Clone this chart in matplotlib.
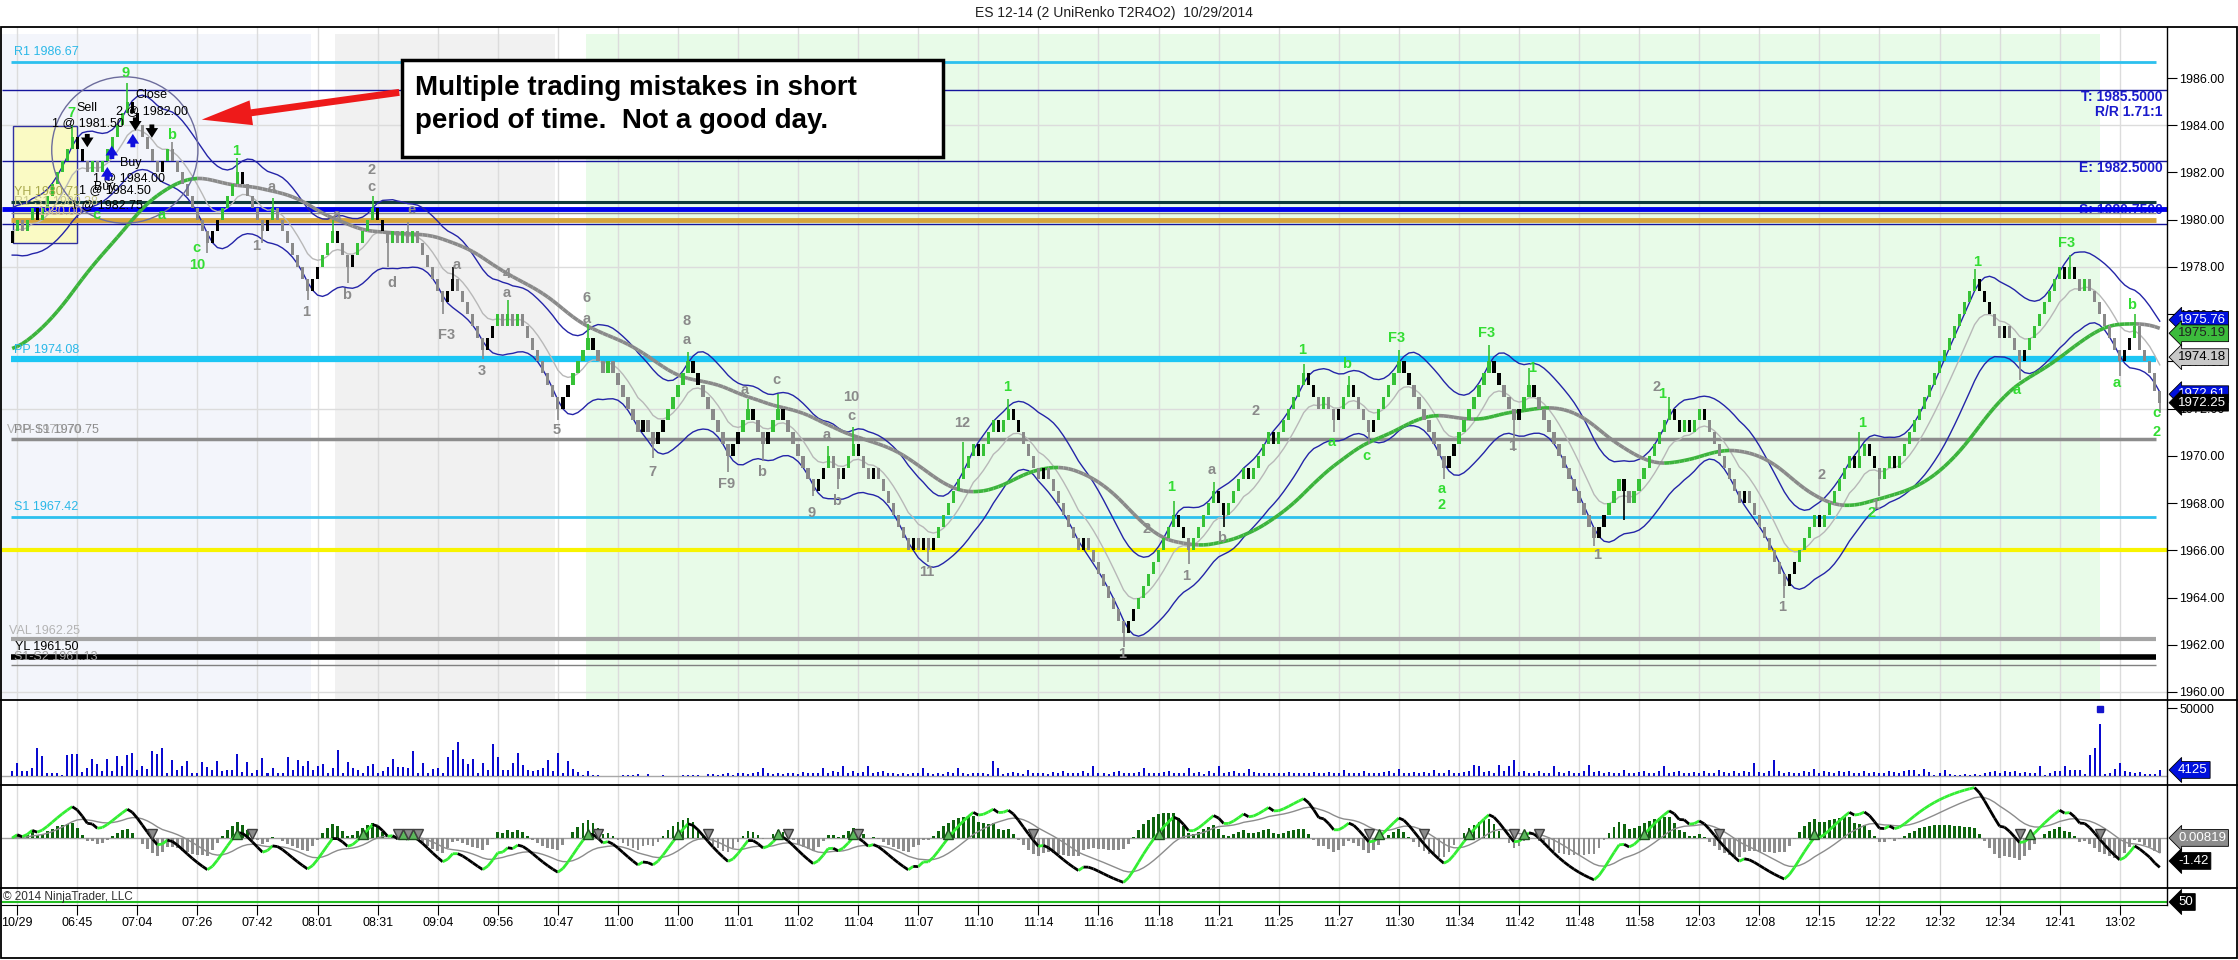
import numpy as np
import pandas as pd
import matplotlib
matplotlib.use('Agg')
import matplotlib.pyplot as plt
from matplotlib.patches import Rectangle, Ellipse, FancyArrowPatch
from matplotlib.lines import Line2D
from matplotlib.collections import LineCollection
import matplotlib.transforms as mtrans

plt.rcParams['font.family'] = ['Liberation Sans', 'DejaVu Sans']

# ---- data (bar index starts at -1) ----
closes = [
    1979.5, 1980, 1979.5, 1980, 1980.5, 1980, 1980.5, 1981, 1981.5, 1982, 1982.5, 1983, 1983.5,
    1983, 1982.5, 1982, 1982.5, 1982, 1982.5, 1983, 1983.5, 1984, 1984.5, 1985, 1984.5,
    1984, 1983.5, 1983, 1982.5, 1982, 1982.5, 1983, 1982.5, 1982, 1981.5, 1981, 1980.5,
    1980, 1979.5, 1979, 1979.5, 1980, 1980.5, 1981, 1981.5, 1982, 1981.5, 1981, 1980.5,
    1980, 1979.5, 1980, 1980.5, 1980, 1979.5, 1979, 1978.5, 1978, 1977.5, 1977, 1977.5,
    1978, 1978.5, 1979, 1979.5, 1979, 1978.5, 1978, 1978.5, 1979, 1979.5, 1980, 1980.5,
    1980, 1979.5, 1979, 1979.5, 1979, 1979.5, 1979, 1979.5, 1979, 1978.5, 1978, 1977.5,
    1977, 1976.5, 1977, 1977.5, 1977, 1976.5, 1976, 1975.5, 1975, 1974.5, 1975, 1975.5,
    1976, 1975.5, 1976, 1975.5, 1976, 1975.5, 1975, 1974.5, 1974, 1973.5, 1973, 1972.5,
    1972, 1972.5, 1973, 1973.5, 1974, 1974.5, 1975, 1974.5, 1974, 1973.5, 1974, 1973.5,
    1973, 1972.5, 1972, 1971.5, 1971, 1971.5, 1971, 1970.5, 1971, 1971.5, 1972, 1972.5,
    1973, 1973.5, 1974, 1973.5, 1973, 1972.5, 1972, 1971.5, 1971, 1970.5, 1970, 1970.5,
    1971, 1971.5, 1972, 1971.5, 1971, 1970.5, 1971, 1971.5, 1972, 1971.5, 1971, 1970.5,
    1970, 1969.5, 1969, 1968.5, 1969, 1969.5, 1970, 1969.5, 1969, 1969.5, 1970, 1970.5,
    1970, 1969.5, 1969, 1969.5, 1969, 1968.5, 1968, 1967.5, 1967, 1966.5, 1966, 1966.5,
    1966, 1966.5, 1966, 1966.5, 1967, 1967.5, 1968, 1968.5, 1969, 1969.5, 1970, 1970.5,
    1970, 1970.5, 1971, 1971.5, 1971, 1971.5, 1972, 1971.5, 1971, 1970.5, 1970, 1969.5,
    1969, 1969.5, 1969, 1968.5, 1968, 1967.5, 1967, 1966.5, 1966, 1966.5, 1966, 1965.5,
    1965, 1964.5, 1964, 1963.5, 1963, 1962.5, 1963, 1963.5, 1964, 1964.5, 1965, 1965.5,
    1966, 1966.5, 1967, 1967.5, 1967, 1966.5, 1966, 1966.5, 1967, 1967.5, 1968, 1968.5,
    1968, 1967.5, 1968, 1968.5, 1969, 1969.5, 1969, 1969.5, 1970, 1970.5, 1971, 1970.5,
    1971, 1971.5, 1972, 1972.5, 1973, 1973.5, 1973, 1972.5, 1972, 1972.5, 1972, 1971.5,
    1972, 1972.5, 1973, 1972.5, 1972, 1971.5, 1971, 1971.5, 1972, 1972.5, 1973, 1973.5,
    1974, 1973.5, 1973, 1972.5, 1972, 1971.5, 1971, 1970.5, 1970, 1969.5, 1970, 1970.5,
    1971, 1971.5, 1972, 1972.5, 1973, 1973.5, 1974, 1973.5, 1973, 1972.5, 1972, 1971.5,
    1972, 1972.5, 1973, 1972.5, 1972, 1971.5, 1971, 1970.5, 1970, 1969.5, 1969, 1968.5,
    1968, 1967.5, 1967, 1966.5, 1967, 1967.5, 1968, 1968.5, 1969, 1968.5, 1968, 1968.5,
    1969, 1969.5, 1970, 1970.5, 1971, 1971.5, 1972, 1971.5, 1971, 1971.5, 1971, 1971.5,
    1972, 1971.5, 1971, 1970.5, 1970, 1969.5, 1969, 1968.5, 1968, 1968.5, 1968, 1967.5,
    1967, 1966.5, 1966, 1965.5, 1965, 1964.5, 1965, 1965.5, 1966, 1966.5, 1967, 1967.5,
    1967, 1967.5, 1968, 1968.5, 1969, 1969.5, 1970, 1969.5, 1970, 1970.5, 1970, 1969.5,
    1969, 1969.5, 1970, 1969.5, 1970, 1970.5, 1971, 1971.5, 1972, 1972.5, 1973, 1973.5,
    1974, 1974.5, 1975, 1975.5, 1976, 1976.5, 1977, 1977.5, 1977, 1976.5, 1976, 1975.5,
    1975, 1975.5, 1975, 1974.5, 1974, 1974.5, 1975, 1975.5, 1976, 1976.5, 1977, 1977.5,
    1978, 1977.5, 1978, 1977.5, 1977, 1977.5, 1977, 1976.5, 1976, 1975.5, 1975, 1974.5,
    1974, 1974.5, 1975, 1975.5, 1974.5, 1974, 1973.5, 1972.75, 1972.25,
]

# volume per bar, thousands of contracts
vol_k = [
    3.2, 9.3, 3.2, 3.2, 5.6, 20.3, 14.2, 1.5, 2.0, 1.5, 0.5, 15.4, 16.2,
    16.2, 2.5, 5.6, 12.2, 8.8, 3.2, 12.2, 3.2, 14.2, 7.4, 15.4, 16.7,
    4.4, 7.4, 4.9, 18.4, 15.9, 20.3, 2.0, 11.8, 4.4, 7.4, 10.8, 2.0,
    1.5, 9.8, 6.4, 4.4, 10.8, 3.2, 3.9, 4.4, 15.9, 2.9, 10.0, 1.5,
    4.4, 13.0, 2.0, 5.6, 2.0, 1.5, 13.7, 4.4, 11.8, 6.9, 10.5, 4.4,
    6.9, 8.8, 2.0, 5.6, 19.1, 2.0, 10.0, 5.6, 4.4, 2.0, 7.4, 8.6,
    2.0, 3.2, 6.4, 12.2, 6.1, 6.4, 5.6, 18.4, 2.0, 9.3, 2.0, 5.1,
    5.6, 2.0, 13.7, 18.6, 24.7, 12.2, 8.8, 12.2, 2.0, 9.3, 3.9, 23.3,
    13.7, 4.4, 4.4, 9.3, 16.7, 7.6, 4.4, 3.2, 4.4, 5.6, 11.8, 3.2,
    16.7, 2.0, 11.0, 4.9, 2.5, 0.7, 3.2, 0.7, 0.7, 0.0, 0.0, 0.0,
    0.0, 0.7, 0.5, 0.7, 0.9, 0.0, 1.0, 0.0, 0.0, 0.7, 0.0, 0.0,
    0.0, 0.7, 0.5, 0.7, 0.7, 0.0, 0.9, 1.2, 0.7, 1.0, 1.5, 0.7,
    2.2, 1.5, 1.0, 1.5, 2.5, 5.7, 1.5, 1.0, 2.0, 1.2, 2.0, 1.5,
    1.0, 2.5, 1.5, 1.7, 2.2, 5.2, 2.0, 3.7, 2.5, 6.9, 2.2, 3.0,
    1.5, 2.7, 6.9, 1.7, 2.5, 3.2, 1.5, 2.0, 1.2, 2.2, 1.0, 1.5,
    2.0, 5.2, 1.5, 1.0, 1.7, 1.2, 2.5, 1.5, 5.7, 2.0, 1.2, 1.7,
    2.2, 1.5, 1.0, 10.6, 5.7, 1.2, 1.5, 2.5, 1.7, 1.0, 4.4, 2.0,
    1.5, 2.2, 1.2, 2.5, 1.7, 3.0, 2.0, 1.5, 2.2, 3.2, 1.7, 6.7,
    1.5, 2.0, 1.2, 2.5, 3.5, 1.7, 2.0, 1.5, 2.5, 5.7, 1.7, 2.2,
    1.5, 2.7, 3.0, 2.0, 1.5, 2.2, 5.7, 1.7, 2.5, 1.2, 3.2, 2.0,
    6.9, 1.5, 2.5, 3.5, 2.2, 1.7, 4.9, 2.5, 2.0, 1.5, 2.2, 1.7,
    2.0, 1.5, 2.5, 1.7, 2.2, 1.5, 2.0, 2.7, 1.5, 1.7, 2.5, 2.0,
    1.5, 4.4, 2.2, 1.5, 2.0, 3.0, 1.7, 2.2, 1.5, 2.5, 3.7, 2.0,
    4.9, 1.5, 2.0, 2.7, 1.7, 2.5, 2.2, 4.4, 2.0, 1.5, 4.4, 2.2,
    1.7, 2.5, 3.2, 8.1, 6.9, 2.5, 3.7, 2.0, 8.1, 3.0, 6.9, 11.8,
    2.5, 3.7, 2.0, 1.5, 3.0, 2.2, 1.7, 6.9, 2.5, 2.0, 3.2, 1.5,
    2.2, 3.0, 8.1, 2.5, 3.5, 2.0, 2.5, 1.7, 2.2, 4.4, 2.0, 1.5,
    2.5, 3.0, 1.7, 2.2, 3.2, 7.4, 2.0, 2.5, 3.5, 2.2, 1.7, 2.5,
    2.0, 3.0, 2.2, 1.5, 4.4, 2.5, 2.0, 3.0, 2.2, 3.5, 2.5, 9.1,
    2.5, 2.0, 3.7, 11.8, 3.0, 2.2, 2.5, 1.7, 2.0, 3.5, 2.5, 4.9,
    2.2, 3.2, 2.5, 2.0, 3.7, 2.5, 3.0, 1.7, 2.2, 3.5, 2.0, 2.5,
    1.7, 2.2, 3.0, 2.5, 1.5, 3.7, 4.4, 4.2, 1.2, 4.9, 2.5, 0.7,
    1.7, 4.2, 1.2, 0.7, 0.3, 1.2, 0.3, 1.2, 0.3, 1.7, 2.5, 3.2,
    1.7, 3.7, 2.5, 3.0, 1.7, 2.5, 1.7, 1.7, 6.7, 0.3, 1.7, 3.2,
    3.2, 7.4, 4.2, 4.2, 4.2, 1.2, 15.5, 20.2, 38.2, 1.2, 1.7, 4.9,
    9.6, 3.7, 2.5, 1.7, 2.5, 1.2, 1.2, 1.2, 4.1,
]

time_labels = ['10/29', '06:45', '07:04', '07:26', '07:42', '08:01', '08:31', '09:04',
               '09:56', '10:47', '11:00', '11:00', '11:01', '11:02', '11:04', '11:07',
               '11:10', '11:14', '11:16', '11:18', '11:21', '11:25', '11:27', '11:30',
               '11:34', '11:42', '11:48', '11:58', '12:03', '12:08', '12:15', '12:22',
               '12:32', '12:34', '12:41', '13:02']

# swing labels: bar, price, text, up-swing (green) or down-swing (gray)
swing_labels = [
    (10.9, 1984.5, '7', 'g'), (21.7, 1986.2, '9', 'g'), (30.9, 1983.6, 'b', 'g'),
    (15.9, 1980.2, 'c', 'g'), (28.9, 1980.2, 'a', 'g'),
    (35.9, 1978.8, 'c', 'g'), (36.0, 1978.1, '10', 'g'), (43.7, 1982.9, '1', 'g'),
    (50.8, 1981.4, 'a', 'k'), (47.8, 1978.9, '1', 'k'), (57.8, 1976.1, '1', 'k'),
    (63.8, 1980.2, 'a', 'k'), (65.8, 1976.8, 'b', 'k'), (70.8, 1982.1, '2', 'k'),
    (70.8, 1981.4, 'c', 'k'), (74.8, 1977.3, 'd', 'k'), (78.7, 1980.4, 'e', 'k'),
    (87.8, 1978.1, 'a', 'k'), (85.8, 1975.1, 'F3', 'k'), (92.8, 1973.6, '3', 'k'),
    (97.8, 1977.7, '4', 'k'), (97.8, 1976.9, 'a', 'k'), (107.8, 1971.1, '5', 'k'),
    (113.8, 1976.7, '6', 'k'), (113.8, 1975.8, 'a', 'k'), (126.8, 1969.3, '7', 'k'),
    (133.8, 1975.7, '8', 'k'), (133.8, 1974.9, 'a', 'k'), (141.8, 1968.8, 'F9', 'k'),
    (145.4, 1972.8, 'a', 'k'), (148.7, 1969.3, 'b', 'k'), (151.7, 1973.2, 'c', 'k'),
    (158.7, 1967.6, '9', 'k'), (161.7, 1970.9, 'a', 'k'), (163.7, 1968.1, 'b', 'k'),
    (166.7, 1972.5, '10', 'k'), (166.7, 1971.7, 'c', 'k'), (181.7, 1965.1, '11', 'k'),
    (188.7, 1971.4, '12', 'k'), (197.7, 1972.9, '1', 'g'), (220.7, 1961.6, '1', 'k'),
    (225.7, 1966.9, '2', 'k'), (230.6, 1968.7, '1', 'g'), (233.6, 1964.9, '1', 'k'),
    (238.6, 1969.4, 'a', 'k'), (240.6, 1966.5, 'b', 'k'), (247.3, 1971.9, '2', 'k'),
    (256.6, 1974.5, '1', 'g'), (262.6, 1970.6, 'a', 'g'), (265.6, 1973.9, 'b', 'g'),
    (269.6, 1970.0, 'c', 'g'), (275.6, 1975.0, 'F3', 'g'), (284.6, 1968.6, 'a', 'g'),
    (284.6, 1967.9, '2', 'g'), (293.6, 1975.2, 'F3', 'g'), (298.6, 1970.4, '1', 'k'),
    (302.6, 1973.7, '1', 'g'), (315.6, 1965.8, '1', 'k'), (327.5, 1972.9, '2', 'k'),
    (328.5, 1972.6, '1', 'g'), (352.5, 1963.6, '1', 'k'), (360.5, 1969.2, '2', 'k'),
    (368.5, 1971.4, '1', 'g'), (371.2, 1967.9, '1', 'k'), (370.5, 1967.6, '2', 'g'),
    (391.5, 1978.2, '1', 'g'), (399.5, 1972.8, 'a', 'g'), (409.4, 1979.0, 'F3', 'g'),
    (419.4, 1973.1, 'a', 'g'), (422.4, 1976.4, 'b', 'g'), (427.4, 1971.8, 'c', 'g'),
    (427.4, 1971.0, '2', 'g'),
]

# wick tips at the swing bars: bar, price
wick_tips = [
    (11, 1984.0), (22, 1985.8), (31, 1983.3), (38, 1978.6), (44, 1982.6), (49, 1979.0),
    (51, 1980.9), (58, 1976.6), (63, 1980.0), (66, 1977.3), (71, 1981.0), (74, 1978.0),
    (78, 1979.9), (85, 1976.0), (87, 1978.0), (93, 1974.1), (98, 1976.6), (108, 1971.5),
    (114, 1975.6), (127, 1969.9), (134, 1974.4), (142, 1969.3), (146, 1972.4),
    (149, 1969.8), (152, 1972.6), (159, 1968.3), (162, 1970.4), (164, 1968.6),
    (167, 1971.2), (182, 1965.5), (189, 1970.6), (198, 1972.4), (221, 1961.9),
    (231, 1968.1), (234, 1965.4), (239, 1968.9), (241, 1967.0), (257, 1973.9),
    (263, 1971.0), (266, 1973.4), (270, 1970.5), (276, 1974.5), (285, 1969.0),
    (294, 1974.7), (299, 1970.2), (302, 1973.7), (315, 1966.2), (321, 1967.3),
    (330, 1972.5), (353, 1964.0), (368, 1971.0), (372, 1968.3), (391, 1977.9),
    (400, 1973.2), (410, 1978.5), (420, 1973.4), (423, 1976.0), (428, 1971.8),
]

# horizontal levels: price, colour, width, full width?
levels = [
    (1986.67, '#2cc0ee', 2.0, False), (1985.50, '#14149c', 1.0, True),
    (1982.50, '#14149c', 1.0, True), (1980.75, '#0e3a3e', 2.2, False),
    (1980.45, '#0000ee', 3.5, True), (1980.30, '#8a8a8a', 1.0, False),
    (1979.97, '#d6a43c', 3.5, False), (1979.80, '#14149c', 1.0, True),
    (1974.08, '#1cc6f4', 4.5, False), (1970.72, '#8c8c8c', 2.5, False),
    (1967.42, '#2cc0ee', 2.0, False), (1966.00, '#f8f400', 3.0, True),
    (1962.25, '#a4a4a4', 3.0, False), (1961.50, '#000000', 4.0, False),
    (1961.13, '#808080', 1.0, False),
]

# level captions at the left edge: text, x px, y px, colour
level_captions = [
    ('R1 1986.67', 14, 52, '#2ab8e8'), ('YH 1980.71', 14, 192, '#a9a94e'),
    ('R1-S1 1980.38', 14, 202, '#c9c98c'), ('1980.00', 37, 212, '#d2b88e'),
    ('PP 1974.08', 14, 350, '#2ab8e8'), ('VAH 1970.70', 7, 430, '#b0b0b0'),
    ('PP-S1 1970.75', 14, 430, '#8c8c8c'), ('S1 1967.42', 14, 507, '#2ab8e8'),
    ('VAL 1962.25', 9, 631, '#b4b4b4'), ('YL 1961.50', 15, 647, '#000000'),
    ('S1-S2 1961.13', 14, 657, '#a0a0a0'),
]

# order annotations in the circled area: text, bar, price
order_texts = [
    ('Sell', 13.9, 1984.75), ('1 @ 1981.50', 14.1, 1984.1), ('Close', 26.9, 1985.3),
    ('2 @ 1982.00', 26.9, 1984.6), ('Buy', 22.7, 1982.4), ('1 @ 1984.00', 22.4, 1981.75),
    ('1 @ 1984.50', 19.5, 1981.25), ('Buy', 17.4, 1981.4), ('1 @ 1982.75', 18.0, 1980.6),
]
sell_arrows = [(14.0, 1983.4), (26.9, 1983.8), (23.6, 1984.1)]
buy_arrows = [(18.9, 1982.8), (23.1, 1983.3), (18.0, 1981.9)]

session_spans = [(-3.1, 58.7, '#f3f5fb'), (63.5, 107.4, '#f1f1f1'), (113.6, 416.0, '#e8fbe8')]

price_tags = [(1972.61, '1972.61', '#0010dd', 'white'), (1972.25, '1972.25', 'black', 'white'),
              (1975.76, '1975.76', '#0010dd', 'white'), (1975.19, '1975.19', '#3cbb3c', '#202020'),
              (1974.18, '1974.18', '#c8c8c8', 'black')]

ma_seed = 1974.5       # slow average value carried in from before the first bar
spike_marker = (416, 49000)

# ---- layout helpers (pixel based) ----
W, H = 2238, 960
BAR0_PX, BAR_PX = 17.2, 5.006
X_RIGHT = 2167


def fx(px):
    return px / W


def fy(py):
    return 1 - py / H


def ema(vals, n, seed=None):
    a = 2.0 / (n + 1)
    out = np.empty(len(vals))
    prev = vals[0] if seed is None else seed
    for i, v in enumerate(vals):
        prev = prev + a * (v - prev)
        out[i] = prev
    return out


c = np.array(closes, dtype=float)
xb = np.arange(len(c)) - 1
o = np.r_[c[0] - 0.5, c[:-1]]
mid = ema(c, 9)
dev = pd.Series(c).rolling(10, min_periods=1).std().fillna(0).values
band = ema(1.0 + 0.6 * dev, 3)
upper = ema(mid + band, 3)
lower = ema(mid - band, 3)
slow = ema(ema(c, 20, seed=ma_seed), 20, seed=ma_seed)
osc = ema(c, 3) - ema(c, 18)
sig = ema(osc, 12)
hist = osc - sig

GREEN = '#36c236'
GRAY = '#8a8a8a'
up = c > o
bar_cols = np.where(up, np.where(c > mid, GREEN, 'black'),
                    np.where(c < mid, GRAY, 'black'))

fig = plt.figure(figsize=(W / 100, H / 100), dpi=100)
xlim = ((2 - BAR0_PX) / BAR_PX, (X_RIGHT - BAR0_PX) / BAR_PX)


def panel(top, bottom):
    a = fig.add_axes([fx(2), fy(bottom), fx(X_RIGHT - 2), (bottom - top) / H])
    a.set_xlim(*xlim)
    for s in ('top', 'left', 'bottom'):
        a.spines[s].set_visible(False)
    a.spines['right'].set_linewidth(1)
    a.tick_params(axis='x', length=0, labelbottom=False)
    a.yaxis.tick_right()
    a.tick_params(axis='y', length=7, labelsize=9, pad=2)
    for i in range(len(time_labels)):
        a.axvline(12 * i, color='#dcdcdc', lw=1, zorder=0.5)
    a.set_facecolor('white')
    return a


ax = panel(27, 700)
axv = panel(700, 785)
axi = panel(785, 888)
axb = panel(888, 905)

# ---- price panel ----
ax.set_ylim(1959.66, 1988.16)
ax.set_yticks(np.arange(1960, 1987, 2))
ax.set_yticklabels(['%.2f' % v for v in np.arange(1960, 1987, 2)])
for x0, x1, col in session_spans:
    ax.axvspan(x0, x1, ymin=0, ymax=0.99, color=col, zorder=0.2, lw=0)
for g in (1960, 1966, 1972, 1978, 1984):
    ax.axhline(g, color='#dcdcdc', lw=1, zorder=0.5)

ax.add_patch(Rectangle((-0.9, 1979.0), 12.8, 4.97, facecolor='#fafac4', edgecolor='#3030a0',
                       lw=1, zorder=1))

for price, col, lw, full in levels:
    x0 = xlim[0] if full else -1.2
    x1 = xlim[1] if full else 427.3
    ax.hlines(price, x0, x1, colors=col, lw=lw, zorder=2)

ax.bar(xb, c - o, bottom=o, width=0.66, color=bar_cols, lw=0, zorder=4)
for b, tip in wick_tips:
    k = b + 1
    ax.vlines(b, c[k], tip, color=bar_cols[k], lw=1.2, zorder=3.9)

ax.plot(xb, mid, color='#b8b8b8', lw=1, zorder=3.5)
ax.plot(xb, upper, color='#2424a8', lw=1, zorder=3.5)
ax.plot(xb, lower, color='#2424a8', lw=1, zorder=3.5)
seg = np.stack([np.column_stack([xb[:-1], slow[:-1]]), np.column_stack([xb[1:], slow[1:]])], axis=1)
seg_cols = np.where(np.diff(slow) >= 0, '#3cb43c', '#8a8a8a')
ax.add_collection(LineCollection(seg, colors=seg_cols, linewidths=2.6, zorder=3.6))

for b, p, t, k in swing_labels:
    ax.text(b, p, t, ha='center', va='center', fontsize=10.5, fontweight='bold',
            color='#33dd33' if k == 'g' else '#8a8a8a', zorder=6)

ax.add_patch(Ellipse((21.5, 1982.95), 29.2, 6.2, fill=False, edgecolor='#6c6c9c', lw=1, zorder=5))
for t, b, p in order_texts:
    ax.text(b, p, t, ha='center', va='center', fontsize=9, color='black', zorder=6)
for b, p in sell_arrows:
    ax.annotate('', xy=(b, p - 0.45), xytext=(b, p + 0.35),
                arrowprops=dict(arrowstyle='simple,head_width=0.9,head_length=0.7,tail_width=0.35',
                                color='black', lw=0), zorder=6)
for b, p in buy_arrows:
    ax.annotate('', xy=(b, p + 0.45), xytext=(b, p - 0.35),
                arrowprops=dict(arrowstyle='simple,head_width=0.9,head_length=0.7,tail_width=0.35',
                                color='#1010dd', lw=0), zorder=6)

rtrans = mtrans.blended_transform_factory(ax.transAxes, ax.transData)
ax.text(0.998, 1985.18, 'T: 1985.5000', transform=rtrans, ha='right', va='center',
        fontsize=10, fontweight='bold', color='#1a1acc', zorder=6)
ax.text(0.998, 1984.55, 'R/R 1.71:1', transform=rtrans, ha='right', va='center',
        fontsize=10, fontweight='bold', color='#1a1acc', zorder=6)
ax.text(0.998, 1982.18, 'E: 1982.5000', transform=rtrans, ha='right', va='center',
        fontsize=10, fontweight='bold', color='#1a1acc', zorder=6)
ax.text(0.998, 1980.4, 'S: 1980.7500', transform=rtrans, ha='right', va='center',
        fontsize=10, fontweight='bold', color='#1a1acc', zorder=1.5)


def tag(a, yv, txt, fc, tc):
    a.annotate(txt, xy=(1, yv), xycoords=('axes fraction', 'data'), xytext=(8, 0),
               textcoords='offset points', ha='left', va='center', fontsize=9.5, color=tc,
               bbox=dict(boxstyle='larrow,pad=0.18', fc=fc, ec='black', lw=0.6),
               annotation_clip=False, zorder=8)


for yv, txt, fc, tc in price_tags:
    tag(ax, yv, txt, fc, tc)

# ---- volume panel ----
vk = np.array(vol_k)
xv = np.arange(len(vk)) - 1
axv.set_ylim(-7037, 55926)
axv.axhline(0, color='#a8a8a8', lw=1, zorder=1)
axv.bar(xv, vk * 1000, width=0.4, color='#0a0ad0', lw=0, zorder=2)
axv.plot([spike_marker[0]], [spike_marker[1]], 's', color='#1414cc', ms=5, zorder=3)
axv.set_yticks([50000])
axv.set_yticklabels(['50000'])
tag(axv, vk[-1] * 1000, '4125', '#0010dd', 'white')

# ---- oscillator panel ----
axi.set_ylim(-3.09, 3.27)
axi.set_yticks([])
axi.axhline(0, color='#a0a0a0', lw=1, zorder=1)
axi.bar(xb, hist, width=0.55, color=np.where(hist >= 0, '#0e640e', '#8c8c8c'), lw=0, zorder=2)
axi.plot(xb, sig, color='#8c8c8c', lw=1, zorder=3)
oseg = np.stack([np.column_stack([xb[:-1], osc[:-1]]), np.column_stack([xb[1:], osc[1:]])], axis=1)
ocols = np.where(np.diff(osc) >= 0, '#33ee33', 'black')
axi.add_collection(LineCollection(oseg, colors=ocols, linewidths=2, zorder=4))
cross_up = np.where((osc[:-1] < 0) & (osc[1:] >= 0))[0] + 1
cross_dn = np.where((osc[:-1] > 0) & (osc[1:] <= 0))[0] + 1
axi.plot(xb[cross_up], np.zeros(len(cross_up)) + 0.25, '^', color='#5cb85c', mec='#1e4e1e',
         ms=7, zorder=5)
axi.plot(xb[cross_dn], np.zeros(len(cross_dn)) + 0.25, 'v', color='#8c8c8c', mec='#404040',
         ms=7, zorder=5)
tag(axi, 0.0, '0.00819', '#8c8c8c', 'white')
tag(axi, -1.42, '-1.42', 'black', 'white')

# ---- bottom strip + time axis ----
axb.set_ylim(49.47, 52.47)
axb.set_yticks([])
axb.axhline(50, color='#22bb22', lw=1.5, zorder=2)
axb.spines['bottom'].set_visible(True)
axb.set_xticks([12 * i for i in range(len(time_labels))])
axb.set_xticklabels(time_labels)
axb.tick_params(axis='x', length=7, labelbottom=True, labelsize=9, pad=2)
tag(axb, 50, '50', 'black', 'white')
fig.text(fx(3), fy(897), '\u00a9 2014 NinjaTrader, LLC', fontsize=8.5, color='#303030',
         va='center', ha='left')

# ---- frame, separators, title ----
for yy in (700, 785, 888):
    fig.add_artist(Line2D([0, 1], [fy(yy), fy(yy)], transform=fig.transFigure, color='black', lw=1.3))
fig.add_artist(Rectangle((fx(0.5), fy(958)), fx(2236.5), (958 - 27) / H, transform=fig.transFigure,
                         fill=False, ec='black', lw=1.3))
fig.text(fx(1114), fy(13), 'ES 12-14 (2 UniRenko T2R4O2)  10/29/2014', ha='center', va='center',
         fontsize=10, color='#202020')

for txt, xp, yp, col in level_captions:
    fig.text(fx(xp), fy(yp), txt, fontsize=9, color=col, ha='left', va='center')

# note box with red arrow
fig.add_artist(Rectangle((fx(402), fy(157)), fx(943 - 402), (157 - 60) / H, transform=fig.transFigure,
                         facecolor='white', edgecolor='black', lw=2.5, zorder=10))
fig.text(fx(415), fy(95), 'Multiple trading mistakes in short', fontsize=20, fontweight='bold',
         ha='left', va='baseline', zorder=11)
fig.text(fx(415), fy(128), 'period of time.  Not a good day.', fontsize=20, fontweight='bold',
         ha='left', va='baseline', zorder=11)
fig.add_artist(FancyArrowPatch((fx(402), fy(92)), (fx(199), fy(120)), transform=fig.transFigure,
                               arrowstyle='simple,head_length=1.8,head_width=0.9,tail_width=0.25',
                               mutation_scale=20, color='#ee1a1a', lw=0, zorder=10))

fig.savefig('out.png', dpi=100)
